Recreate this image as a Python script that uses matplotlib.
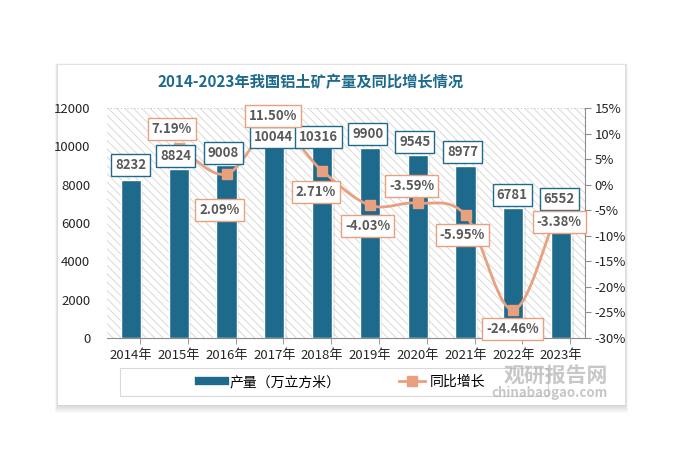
import numpy as np
import matplotlib.pyplot as plt
from matplotlib.patches import Rectangle
from matplotlib.lines import Line2D
from matplotlib.ticker import FixedLocator, FuncFormatter

plt.rcParams['font.family'] = ['Noto Sans CJK SC', 'DejaVu Sans']
plt.rcParams['hatch.linewidth'] = 0.6

# data
years = ['2014年', '2015年', '2016年', '2017年', '2018年',
         '2019年', '2020年', '2021年', '2022年', '2023年']
output = [8232, 8824, 9008, 10044, 10316, 9900, 9545, 8977, 6781, 6552]
growth = [None, 7.19, 2.09, 11.50, 2.71, -4.03, -3.59, -5.95, -24.46, -3.38]

# label offsets in pixels (dx, dy)
bar_lab_off = [(0, 15), (-3, 13), (-3, 12), (-1, 8), (-4, 3),
               (-2, 14), (-3, 13), (-3, 14), (-1, 13), (-2, 13)]
line_lab_off = [None, (-7, 19), (-7, -36), (-1, 10), (-6, -21),
                (-2, -21), (-6, 17), (-3, -20), (-1, -19), (-2, -20)]

BLUE = '#1d6a8c'
ORANGE = '#e9a07e'
TXT = '#595959'

W, H = 687, 465
fig = plt.figure(figsize=(W / 100, H / 100), dpi=100)
fig.patch.set_facecolor('white')

# card with soft shadow
cx0, cy0, cx1, cy1 = 58, 65, 625, 405
for k in range(8, 0, -1):
    fig.patches.append(Rectangle((cx0 / W - k * 0.0006, 1 - (cy1 + k) / H),
                                 (cx1 - cx0 + 2 * k * 0.4) / W, (cy1 - cy0 + k * 1.2) / H,
                                 transform=fig.transFigure, facecolor='#000000',
                                 alpha=0.018, edgecolor='none', zorder=0))
fig.patches.append(Rectangle((cx0 / W, 1 - cy1 / H), (cx1 - cx0) / W, (cy1 - cy0) / H,
                             transform=fig.transFigure, facecolor='white',
                             edgecolor='none', zorder=0.5))

px0, px1, py0, py1 = 107, 585, 108, 338
ax = fig.add_axes([px0 / W, 1 - py1 / H, (px1 - px0) / W, (py1 - py0) / H])
ax.set_zorder(2)
ax.patch.set_facecolor('white')
ax.add_patch(Rectangle((0, 0), 1, 1, transform=ax.transAxes, facecolor='none',
                       edgecolor='#d4d4d4', hatch='\\\\\\\\', linewidth=0, zorder=0))

x = np.arange(len(years))
ax.bar(x + 0.05, output, width=0.42, color='#000000', alpha=0.07, linewidth=0, zorder=1.5)
ax.bar(x, output, width=0.42, color=BLUE, edgecolor='white', linewidth=1, zorder=2)
ax.set_xlim(-0.5, len(years) - 0.5)
ax.set_ylim(0, 12000)
ax.set_yticks(range(0, 12001, 2000))
ax.tick_params(axis='y', length=0, pad=12, labelsize=9.5, labelcolor='#262626')
ax.set_xticks(x)
ax.set_xticklabels(years)
ax.tick_params(axis='x', length=0, pad=8, labelsize=9.5, labelcolor='#262626')
ax.xaxis.set_minor_locator(FixedLocator(x + 0.19))
ax.tick_params(axis='x', which='minor', length=4, color='#8c8c8c')
for s in ['left', 'right', 'top']:
    ax.spines[s].set_visible(False)
ax.spines['bottom'].set_color('#8c8c8c')
ax.axhline(12000, color='#c8c8c8', linestyle=(0, (1, 2)), linewidth=0.8, zorder=1)

ax2 = ax.twinx()
ax2.set_zorder(3)
ax2.patch.set_visible(False)
ax2.set_ylim(-30, 15)
ax2.set_yticks(range(-30, 16, 5))
ax2.yaxis.set_major_formatter(FuncFormatter(lambda v, p: '%d%%' % v))
ax2.tick_params(axis='y', length=4, color='#8c8c8c', pad=3, labelsize=9.5,
                labelcolor='#262626')
for s in ['left', 'top', 'bottom']:
    ax2.spines[s].set_visible(False)
ax2.spines['right'].set_color('#8c8c8c')

gx = np.array([xi for xi, g in zip(x, growth) if g is not None], dtype=float)
gy = np.array([g for g in growth if g is not None], dtype=float)

# Catmull-Rom smoothing, like a smoothed spreadsheet line
px = np.concatenate([[2 * gx[0] - gx[1]], gx, [2 * gx[-1] - gx[-2]]])
py = np.concatenate([[2 * gy[0] - gy[1]], gy, [2 * gy[-1] - gy[-2]]])
sx, sy = [], []
t = np.linspace(0, 1, 30)
for i in range(1, len(px) - 2):
    for arr, out in ((px, sx), (py, sy)):
        p0, p1, p2, p3 = arr[i - 1], arr[i], arr[i + 1], arr[i + 2]
        out.extend(0.5 * ((2 * p1) + (-p0 + p2) * t + (2 * p0 - 5 * p1 + 4 * p2 - p3) * t ** 2
                          + (-p0 + 3 * p1 - 3 * p2 + p3) * t ** 3))
ax2.plot(sx, sy, color=ORANGE, linewidth=2, zorder=3)
ax2.plot(gx, gy, linestyle='none', marker='s', markersize=7, color=ORANGE, zorder=4)

# bar labels sit above the line, so draw them on ax2 with ax's data coords
for xi, v, (dx, dy) in zip(x, output, bar_lab_off):
    ax2.annotate(str(v), (xi, v), xycoords=ax.transData, xytext=(dx, dy),
                 textcoords='offset pixels', ha='center', va='center', fontsize=9.5,
                 fontweight='bold', color=TXT,
                 bbox=dict(boxstyle='square,pad=0.3', facecolor='white',
                           edgecolor=BLUE, linewidth=1), zorder=5)

for xi, g, off in zip(x, growth, line_lab_off):
    if g is None:
        continue
    ax2.annotate('%.2f%%' % g, (xi, g), xytext=off, textcoords='offset pixels',
                 ha='center', va='center', fontsize=9.5, fontweight='bold', color=TXT,
                 bbox=dict(boxstyle='square,pad=0.3', facecolor='white',
                           edgecolor=ORANGE, linewidth=1), zorder=6)

fig.text(311 / W, 1 - 82 / H, '2014-2023年我国铝土矿产量及同比增长情况',
         ha='center', va='center', fontsize=11, fontweight='bold', color=BLUE)

# legend
fig.patches.append(Rectangle((120 / W, 1 - 396 / H), 428 / W, 28 / H,
                             transform=fig.transFigure, facecolor='white',
                             edgecolor='#d9d9d9', linewidth=0.8, zorder=1))
handles = [Line2D([], [], color=BLUE, linewidth=6),
           Line2D([], [], color=ORANGE, linewidth=2, marker='s', markersize=7)]
fig.legend(handles, ['产量（万立方米）', '同比增长'], loc='center',
           bbox_to_anchor=(342 / W, 1 - 382 / H), ncol=2, frameon=False,
           fontsize=10, handlelength=1.9, handletextpad=0.3, columnspacing=4.2)

# watermark
fig.text(556 / W, 1 - 375 / H, '观研报告网', ha='center', va='center', fontsize=15,
         fontweight='bold', color='#9a9a9a', alpha=0.55, zorder=10)
fig.text(550 / W, 1 - 393 / H, 'chinabaogao.com', ha='center', va='center',
         fontsize=9.5, fontweight='bold', color='#9a9a9a', alpha=0.55, zorder=10)

fig.savefig('out.png', dpi=100)
